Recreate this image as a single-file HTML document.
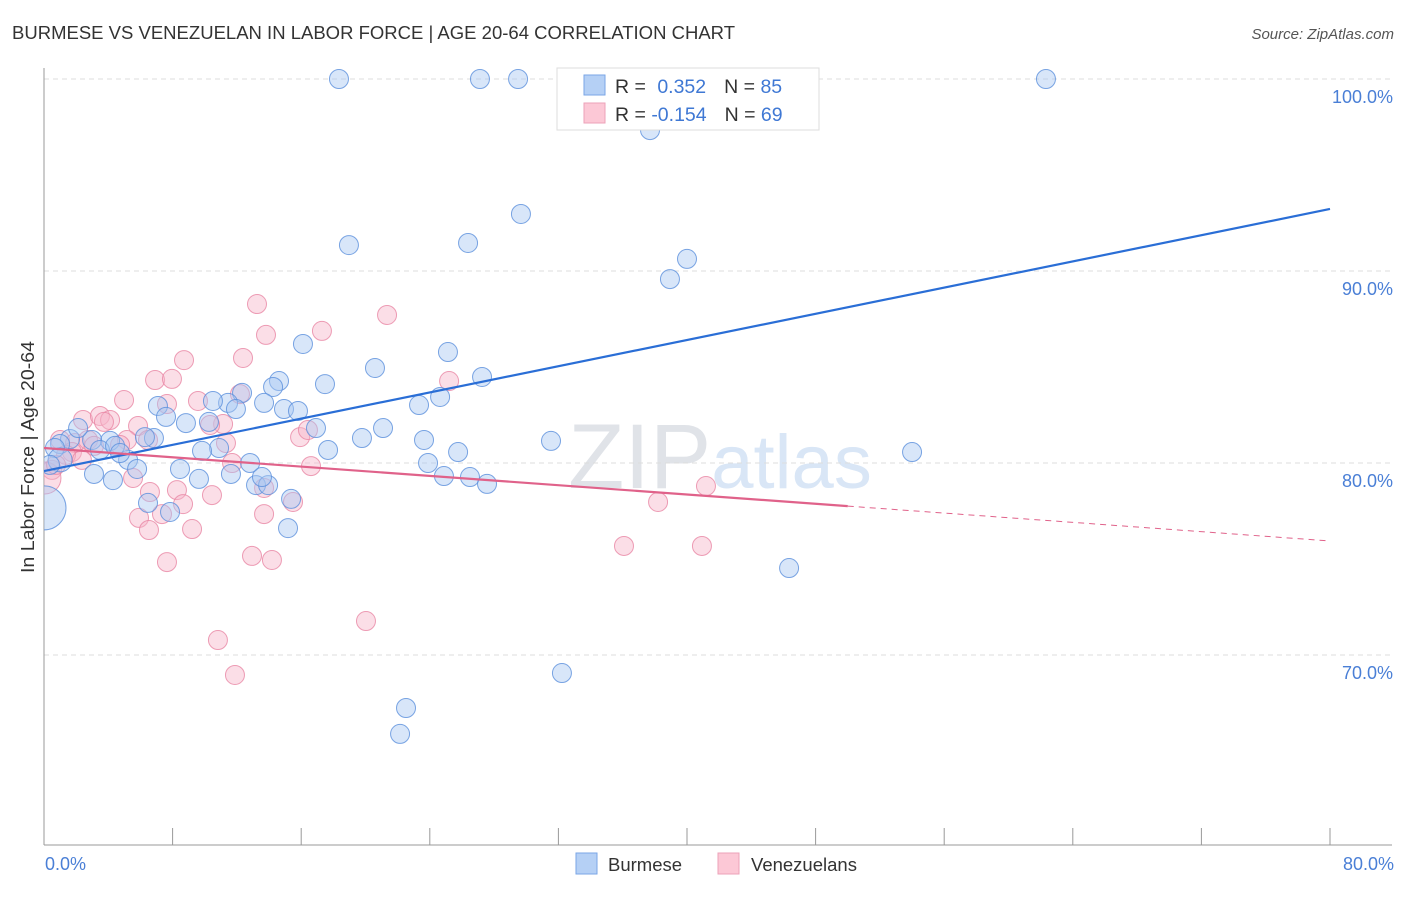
<!DOCTYPE html>
<html><head><meta charset="utf-8"><style>
body{margin:0;background:#fff;font-family:"Liberation Sans",sans-serif}
svg text{font-family:"Liberation Sans",sans-serif}
</style></head><body>
<svg id="chart" width="1406" height="892" xmlns="http://www.w3.org/2000/svg">
<defs><clipPath id="plotclip"><rect x="44" y="60" width="1360" height="785"/></clipPath></defs>
<text x="12" y="39" font-size="18.6" fill="#333" textLength="723" lengthAdjust="spacingAndGlyphs">BURMESE VS VENEZUELAN IN LABOR FORCE | AGE 20-64 CORRELATION CHART</text>
<text x="1394" y="39" font-size="15" fill="#555" text-anchor="end" font-style="italic">Source: ZipAtlas.com</text>
<text x="720" y="488" font-size="92" fill="#e0e3e8" text-anchor="middle" font-family="Liberation Serif"><tspan>ZIP</tspan><tspan fill="#d9e6f6" font-family="Liberation Sans" font-size="76">atlas</tspan></text>
<g id="grid"></g>
<g id="axes"></g>
<g id="pts" clip-path="url(#plotclip)"></g>
<g id="lines"></g>
<text transform="translate(34,457) rotate(-90)" font-size="18" fill="#333" text-anchor="middle" textLength="232" lengthAdjust="spacingAndGlyphs">In Labor Force | Age 20-64</text>
<text x="45" y="870" font-size="18" fill="#4a7fd6">0.0%</text>
<text x="1394" y="870" font-size="18" fill="#4a7fd6" text-anchor="end">80.0%</text>
<g>
<rect x="557" y="68" width="262" height="62" fill="#fff" stroke="#ddd"/>
<rect x="584" y="75" width="21" height="20" fill="#b5d0f5" stroke="#7aa6e6"/>
<rect x="584" y="103" width="21" height="20" fill="#fcc8d6" stroke="#eca2b8"/>
<text x="615" y="93" font-size="19.5" fill="#333">R = <tspan fill="#3f78d4" dx="6">0.352</tspan><tspan dx="18" fill="#333">N = </tspan><tspan fill="#3f78d4">85</tspan></text>
<text x="615" y="121" font-size="19.5" fill="#333">R = <tspan fill="#3f78d4">-0.154</tspan><tspan dx="18" fill="#333">N = </tspan><tspan fill="#3f78d4">69</tspan></text>
</g>
<g>
<rect x="576" y="853" width="21" height="21" fill="#b5d0f5" stroke="#7aa6e6"/>
<text x="608" y="871" font-size="18.5" fill="#333">Burmese</text>
<rect x="718" y="853" width="21" height="21" fill="#fcc8d6" stroke="#eca2b8"/>
<text x="751" y="871" font-size="18.5" fill="#333">Venezuelans</text>
</g>
</svg>
<script>
const yTicks=[100,90,80,70];
const yTickLabels=["100.0%","90.0%","80.0%","70.0%"];
const xTicks=[0,8,16,24,32,40,48,56,64,72,80];
const burmeseX=[18.35,27.12,29.49,62.33,37.7,29.67,18.97,26.38,40.0,38.94,16.11,25.13,20.59,27.25,14.62,14.25,17.48,12.32,13.69,11.45,10.51,7.09,11.94,14.93,15.8,23.33,24.64,7.59,8.83,10.26,16.92,31.54,54.0,19.78,21.09,23.64,25.76,17.67,10.89,9.83,6.84,6.28,4.11,2.99,1.62,1.0,0.68,2.12,5.23,5.79,3.48,4.42,8.46,9.64,11.63,12.82,23.89,24.88,26.5,27.56,13.19,13.94,13.56,15.37,15.18,7.84,6.47,4.29,3.11,46.35,32.22,22.52,22.15,0,4.73,1.0,0.37];
const burmeseY=[100,100,100,100,97.34,92.97,91.35,91.46,90.63,89.58,86.2,85.78,84.95,84.48,84.27,83.96,84.11,83.65,83.13,83.13,83.23,82.97,82.81,82.81,82.71,83.02,83.44,82.4,82.08,82.14,81.82,81.15,80.57,81.3,81.82,81.2,80.57,80.68,80.78,80.63,81.3,81.35,81.15,81.2,81.25,80.99,80.78,81.82,80.16,79.69,80.68,80.89,79.69,79.17,79.43,80.0,80.0,79.32,79.27,78.91,78.85,78.85,79.27,78.13,76.61,77.45,77.92,79.11,79.43,74.53,69.06,67.24,65.89,77.66,80.52,80.16,79.9];
const burmeseR=[9,9,9,9,9,9,9,9,9,9,9,9,9,9,9,9,9,9,9,9,9,9,9,9,9,9,9,9,9,9,9,9,9,9,9,9,9,9,9,9,9,9,9,9,9,9,9,9,9,9,9,9,9,9,9,9,9,9,9,9,9,9,9,9,9,9,9,9,9,9,9,9,9,22,9,12,9];
const venezX=[13.25,13.81,21.34,17.29,8.71,12.38,6.91,7.96,12.19,9.58,4.98,7.65,2.43,3.48,4.11,3.73,11.14,10.33,11.32,5.85,5.16,1.0,1.93,2.74,15.93,16.42,4.73,3.11,1.74,1.37,0.5,0.06,0.75,16.61,11.7,2.36,5.54,6.59,8.27,8.65,10.45,13.69,15.49,5.91,7.34,6.53,9.21,13.69,12.94,14.18,7.65,10.82,11.88,20.03,25.2,38.2,41.18,36.08,40.93,6.47];
const venezY=[88.28,86.67,87.71,86.88,85.36,85.47,84.32,84.38,83.59,83.23,83.28,83.07,82.24,82.45,82.24,82.14,82.03,81.98,81.04,81.93,81.2,81.2,81.04,81.2,81.35,81.72,80.94,80.89,80.57,80.42,79.64,79.22,79.9,79.84,80.0,80.16,79.22,78.49,78.59,77.86,78.33,78.7,77.97,77.14,77.34,76.51,76.56,77.34,75.16,74.95,74.84,70.78,68.96,71.77,84.27,77.97,78.8,75.68,75.68,81.2];
const blueTrend=[79.58,93.23];
const pinkTrend=[80.78,75.94];
const pinkSolidEnd=50;
const NS='http://www.w3.org/2000/svg';
const xs=v=>44+v/80*1286;
const ys=v=>79+(100-v)*19.2;
function mk(tag,attrs,parent){const e=document.createElementNS(NS,tag);for(const k in attrs)e.setAttribute(k,attrs[k]);parent.appendChild(e);return e;}
const grid=document.getElementById('grid'),axes=document.getElementById('axes'),pts=document.getElementById('pts'),lines=document.getElementById('lines');
yTicks.forEach((t,i)=>{
 const l=mk('line',{x1:44,x2:1392,y1:ys(t),y2:ys(t),stroke:'#ddd','stroke-dasharray':'5,4'},grid);
 
 
 const tx=mk('text',{x:1393,y:ys(t)+24,'font-size':18,fill:'#4a7fd6','text-anchor':'end'},grid);
 tx.textContent=yTickLabels[i];
 
 
});
const ya=mk('line',{x1:44,x2:44,y1:68,y2:845,stroke:'#999'},axes);


const xa=mk('line',{x1:44,x2:1392,y1:845,y2:845,stroke:'#999'},axes);


xTicks.forEach(t=>{
 const l=mk('line',{x1:xs(t),x2:xs(t),y1:828,y2:845,stroke:'#999'},axes);
 
 
});
function drawSeries(X,Y,R,fill,stroke,name){
 X.forEach((x,i)=>{
  const c=mk('circle',{cx:xs(x),cy:ys(Y[i]),r:R?R[i]:9.5,fill:fill,'fill-opacity':0.45,stroke:stroke,'stroke-opacity':0.8,'stroke-width':1},pts);
  
  
 });
}
drawSeries(venezX,venezY,venezX.map((x,i)=>i==31?16:9.5),'#f6b6c9','#e986a4','venezuelan-point');
drawSeries(burmeseX,burmeseY,burmeseR.map(r=>r==9?9.5:r),'#a8c8f2','#5a8fdc','burmese-point');
const bl=mk('line',{x1:xs(0),y1:ys(blueTrend[0]),x2:xs(80),y2:ys(blueTrend[1]),stroke:'#2a6ed6','stroke-width':2.2},lines);


const pAt=x=>pinkTrend[0]+(pinkTrend[1]-pinkTrend[0])*x/80;
const pl=mk('line',{x1:xs(0),y1:ys(pinkTrend[0]),x2:xs(pinkSolidEnd),y2:ys(pAt(pinkSolidEnd)),stroke:'#e0628a','stroke-width':2.2},lines);


const pd=mk('line',{x1:xs(pinkSolidEnd),y1:ys(pAt(pinkSolidEnd)),x2:xs(80),y2:ys(pinkTrend[1]),stroke:'#e0628a','stroke-width':1,'stroke-dasharray':'6,5'},lines);


</script>
</body></html>
